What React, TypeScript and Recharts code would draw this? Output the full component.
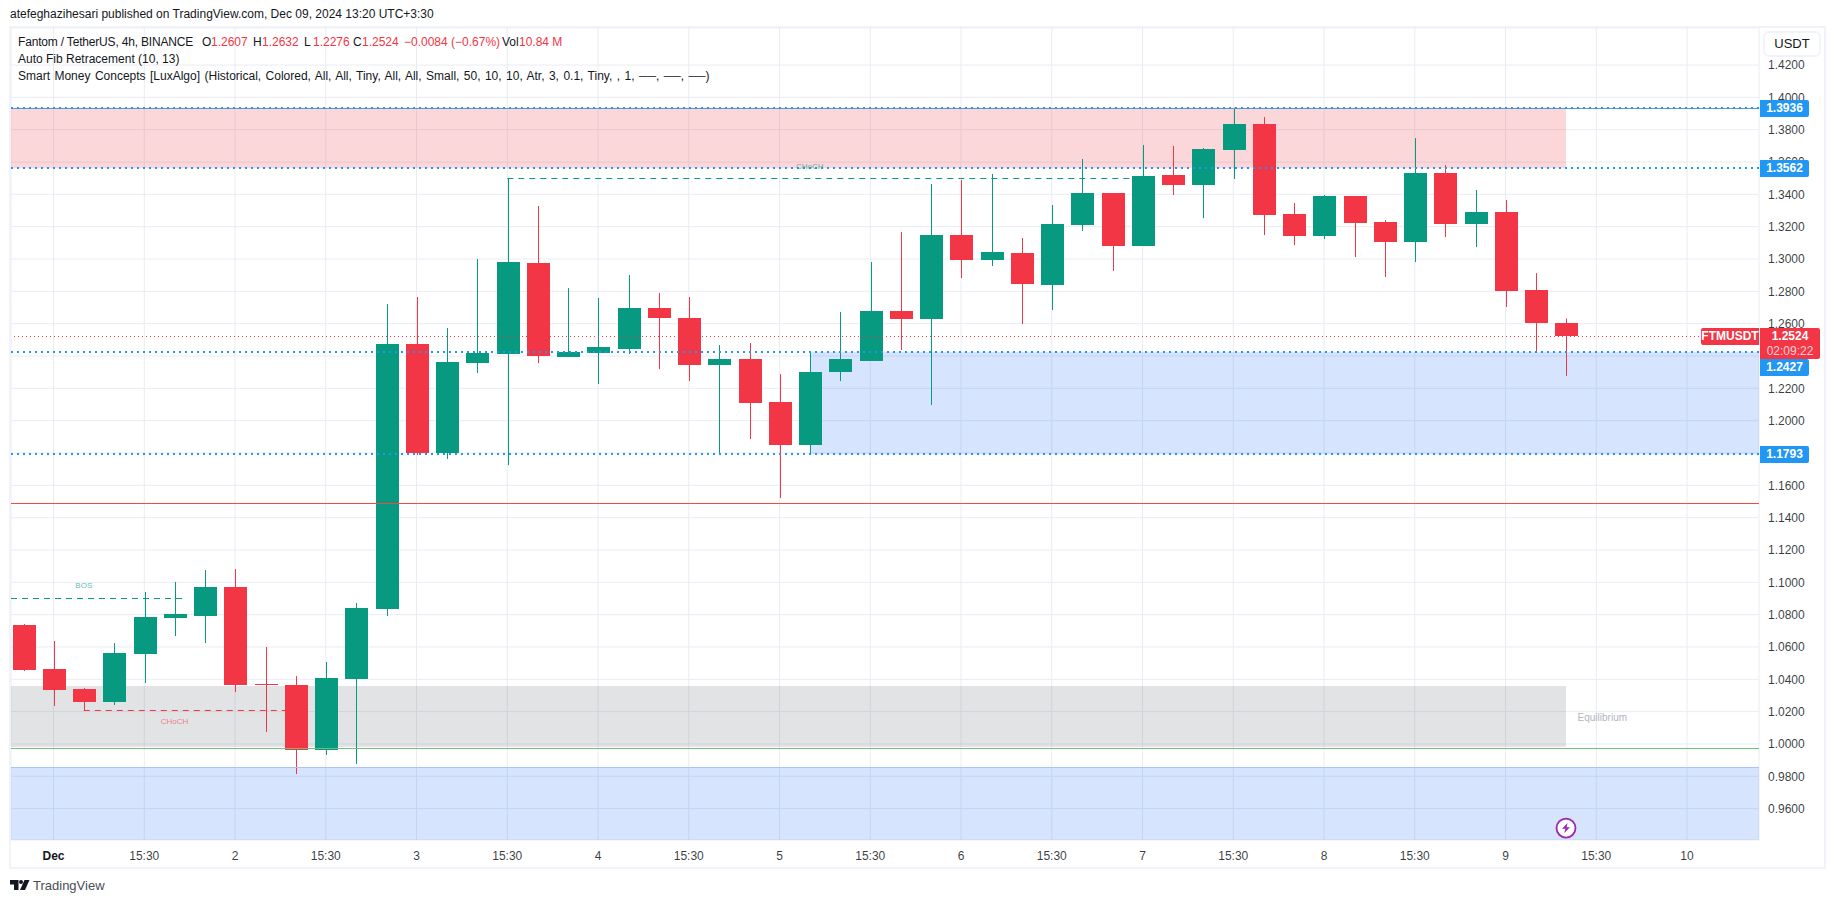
import React from "react";
import { ComposedChart, Bar, XAxis, YAxis, CartesianGrid, ReferenceLine, ReferenceArea, ReferenceDot } from "recharts";

const opens = [1.0736,1.0463,1.0340,1.0259,1.0556,1.0779,1.0791,1.0971,1.0371,1.0365,0.9962,1.0402,1.0835,1.2474,1.1800,1.2356,1.2412,1.2975,1.2394,1.2418,1.2443,1.2697,1.2635,1.2344,1.2381,1.2115,1.1849,1.2301,1.2369,1.2678,1.2629,1.3148,1.2994,1.3037,1.2839,1.3210,1.3408,1.3080,1.3520,1.3458,1.3674,1.3835,1.3278,1.3142,1.3390,1.3229,1.3105,1.3532,1.3216,1.3291,1.2808,1.2607];
const highs = [1.0742,1.0637,1.0346,1.0624,1.0940,1.1002,1.1076,1.1082,1.0600,1.0420,1.0507,1.0872,1.2721,1.2765,1.2573,1.3000,1.3501,1.3328,1.2820,1.2759,1.2901,1.2790,1.2765,1.2468,1.2480,1.2288,1.2425,1.2672,1.2981,1.3167,1.3464,1.3489,1.3526,1.3130,1.3334,1.3619,1.3408,1.3705,1.3699,1.3687,1.3936,1.3878,1.3346,1.3396,1.3390,1.3241,1.3748,1.3581,1.3427,1.3365,1.2913,1.2632];
const lows = [1.0451,1.0235,1.0204,1.0241,1.0377,1.0668,1.0624,1.0321,1.0074,0.9814,0.9932,0.9876,1.0791,1.1787,1.1763,1.2295,1.1725,1.2356,1.2394,1.2227,1.2412,1.2319,1.2245,1.1794,1.1886,1.1521,1.1794,1.2245,1.2369,1.2437,1.2097,1.2882,1.2957,1.2598,1.2684,1.3173,1.2926,1.3080,1.3396,1.3253,1.3495,1.3148,1.3086,1.3124,1.3012,1.2889,1.2981,1.3136,1.3074,1.2703,1.2431,1.2276];
const closes = [1.0457,1.0334,1.0259,1.0562,1.0785,1.0804,1.0971,1.0365,1.0365,0.9962,1.0408,1.0841,1.2474,1.1800,1.2363,1.2418,1.2981,1.2400,1.2425,1.2455,1.2697,1.2635,1.2344,1.2381,1.2109,1.1849,1.2301,1.2381,1.2678,1.2629,1.3148,1.2994,1.3043,1.2845,1.3216,1.3408,1.3080,1.3513,1.3458,1.3680,1.3835,1.3272,1.3142,1.3390,1.3223,1.3105,1.3532,1.3216,1.3291,1.2802,1.2604,1.2524];

const xTicks = [1,4,7,10,13,16,19,22,25,28,31,34,37,40,43,46,49,52,55];
const xLabels = ["Dec","15:30","2","15:30","3","15:30","4","15:30","5","15:30","6","15:30","7","15:30","8","15:30","9","15:30","10"];
const yTicks = [0.96,0.98,1.0,1.02,1.04,1.06,1.08,1.1,1.12,1.14,1.16,1.18,1.2,1.22,1.24,1.26,1.28,1.3,1.32,1.34,1.36,1.38,1.4,1.42];

const UP = "#089981";
const DOWN = "#f23645";
const FONT = "'Liberation Sans', Arial, sans-serif";
const X_MIN = -0.4066;
const X_MAX = 57.38;

const candles = opens.map((o, i) => ({ i, open: o, high: highs[i], low: lows[i], close: closes[i], range: [lows[i], highs[i]] }));

function Candle(props: any) {
  const { x, y, width, height, payload } = props;
  const cx = Math.round(x + width / 2);
  const perUnit = height / (payload.high - payload.low);
  const top = y + (payload.high - Math.max(payload.open, payload.close)) * perUnit;
  const bottom = y + (payload.high - Math.min(payload.open, payload.close)) * perUnit;
  const color = payload.close >= payload.open ? UP : DOWN;
  return (
    <g>
      <rect x={cx} y={y} width={1} height={height} fill={color} />
      <rect x={cx - 11} y={Math.round(top)} width={23} height={Math.max(1, Math.round(bottom) - Math.round(top))} fill={color} />
    </g>
  );
}

function XTick(props: any) {
  const { x, y, payload } = props;
  const label = xLabels[xTicks.indexOf(payload.value)];
  return (
    <text x={x} y={y + 18} textAnchor="middle" fontFamily={FONT} fontSize={12} fontWeight={label === "Dec" ? 700 : 400} fill="#131722" fillOpacity={label === "Dec" ? 1 : 0.85}>
      {label}
    </text>
  );
}

function Bolt(props: any) {
  const { cx, cy } = props;
  return (
    <g>
      <circle cx={cx} cy={cy} r={9.5} fill="#fff" stroke="#9c27b0" strokeWidth={1.8} />
      <path d={`M${cx + 1.5} ${cy - 5} L${cx - 4} ${cy + 0.8} L${cx - 0.6} ${cy + 0.8} L${cx - 1.8} ${cy + 5} L${cx + 4} ${cy - 0.8} L${cx + 0.6} ${cy - 0.8} Z`} fill="#9c27b0" />
    </g>
  );
}

function Txt({ x, y, color = "#131722", size = 12, bold = false, style, children }: any) {
  return (
    <div style={{ position: "absolute", left: x, top: y, transform: "translateY(-50%)", color, fontSize: size, fontWeight: bold ? 700 : 400, whiteSpace: "nowrap", lineHeight: "16px", ...style }}>
      {children}
    </div>
  );
}

function Tag({ top, height = 17, width = 49, left = 1760, color = "#2196f3", radius = "0 2px 2px 0", children }: any) {
  return (
    <div style={{ position: "absolute", left, top, width, height, background: color, borderRadius: radius, color: "#fff", fontSize: 12, fontWeight: 700, textAlign: "center", lineHeight: "17px" }}>
      {children}
    </div>
  );
}

const noLabel = (value: string, color: string, size: number) => ({ value, position: "center" as const, fill: color, fontSize: size, fontFamily: FONT });

export default function App() {
  return (
    <div style={{ position: "absolute", left: 0, top: 0, width: 1835, height: 903, overflow: "hidden", background: "#fff", fontFamily: FONT }}>
      <ComposedChart width={1835} height={903} data={candles} margin={{ top: 28, right: 10, bottom: 35, left: 11 }}>
        <CartesianGrid stroke="#e9ecf3" strokeWidth={1} />
        <XAxis dataKey="i" type="number" scale="linear" domain={[X_MIN, X_MAX]} ticks={xTicks} interval={0} height={28} axisLine={false} tickLine={false} tickSize={0} tick={<XTick />} allowDataOverflow />
        <YAxis orientation="right" type="number" domain={[0.9406, 1.4429]} ticks={yTicks} interval={0} width={66} axisLine={false} tickLine={false} tickSize={0} tickMargin={9} tickFormatter={(v: number) => v.toFixed(4)} tick={{ fontSize: 12, fontFamily: FONT, fill: "#131722", fillOpacity: 0.85 }} allowDataOverflow />

        <ReferenceLine y={1.3931} stroke="#6f92c0" strokeWidth={1} />
        <ReferenceLine y={1.39341} stroke="#2196f3" strokeWidth={2} strokeDasharray="2 4" />
        <ReferenceLine y={1.3563} stroke="#2196f3" strokeWidth={2} strokeDasharray="2 4" />
        <ReferenceLine y={1.24248} stroke="#2196f3" strokeWidth={2} strokeDasharray="2 4" />
        <ReferenceLine y={1.17938} stroke="#2196f3" strokeWidth={2} strokeDasharray="2 4" />
        <ReferenceLine y={1.25206} stroke={DOWN} strokeWidth={1} strokeDasharray="1 3" />
        <ReferenceLine y={1.14876} stroke="#ef4a45" strokeWidth={1} />
        <ReferenceLine y={0.99719} stroke="#6fbf73" strokeWidth={1} />

        <ReferenceArea x1={X_MIN} x2={51} y1={1.3562} y2={1.3936} fill="#f23645" fillOpacity={0.2} stroke="none" />
        <ReferenceArea x1={26} x2={X_MAX} y1={1.1793} y2={1.2427} fill="#3278f5" fillOpacity={0.2} stroke="none" />
        <ReferenceArea x1={X_MIN} x2={51} y1={0.9981} y2={1.0358} fill="#6e737d" fillOpacity={0.2} stroke="none" />
        <ReferenceArea x1={X_MIN} x2={X_MAX} y1={0.9406} y2={0.9856} fill="#3278f5" fillOpacity={0.2} stroke="none" />
        <ReferenceLine y={0.98545} stroke="#aac4f5" strokeWidth={1} />

        <ReferenceLine segment={[{ x: X_MIN, y: 1.08999 }, { x: 5.41, y: 1.08999 }]} stroke={UP} strokeWidth={1} strokeDasharray="6 5" />
        <ReferenceLine segment={[{ x: 2, y: 1.02071 }, { x: 9, y: 1.02071 }]} stroke={DOWN} strokeWidth={1} strokeDasharray="6 5" />
        <ReferenceLine segment={[{ x: 16, y: 1.3498 }, { x: 37, y: 1.3498 }]} stroke={UP} strokeWidth={1} strokeDasharray="6 5" />

        <ReferenceDot x={2} y={1.0983} r={0} fill="none" stroke="none" label={noLabel("BOS", "#089981b0", 8)} />
        <ReferenceDot x={5} y={1.0142} r={0} fill="none" stroke="none" label={noLabel("CHoCH", "#f23645a0", 8)} />
        <ReferenceDot x={26} y={1.3575} r={0} fill="none" stroke="none" label={noLabel("CHoCH", "#089981b0", 8)} />
        <ReferenceDot x={52.2} y={1.0167} r={0} fill="none" stroke="none" label={noLabel("Equilibrium", "#b2b5be", 10)} />

        <Bar dataKey="range" barSize={23} isAnimationActive={false} shape={<Candle />} />
        <ReferenceDot x={51} y={0.948} r={10} shape={<Bolt />} />
      </ComposedChart>

      <div style={{ position: "absolute", left: 9, top: 26, width: 1817, height: 843, border: "2px solid #f0f3fa", boxSizing: "border-box", pointerEvents: "none" }} />

      <Txt x={10} y={14}>atefeghazihesari published on TradingView.com, Dec 09, 2024 13:20 UTC+3:30</Txt>
      <Txt x={18} y={42} style={{ letterSpacing: -0.18 }}>Fantom / TetherUS, 4h, BINANCE</Txt>
      <Txt x={202} y={42}>O</Txt><Txt x={211} y={42} color={DOWN}>1.2607</Txt>
      <Txt x={253} y={42}>H</Txt><Txt x={262} y={42} color={DOWN}>1.2632</Txt>
      <Txt x={304} y={42}>L</Txt><Txt x={313} y={42} color={DOWN}>1.2276</Txt>
      <Txt x={353} y={42}>C</Txt><Txt x={362} y={42} color={DOWN}>1.2524</Txt>
      <Txt x={404} y={42} color={DOWN}>−0.0084 (−0.67%)</Txt>
      <Txt x={502} y={42}>Vol</Txt><Txt x={519} y={42} color={DOWN}>10.84 M</Txt>
      <Txt x={18} y={59}>Auto Fib Retracement (10, 13)</Txt>
      <Txt x={18} y={76} style={{ wordSpacing: 1.1 }}>Smart Money Concepts [LuxAlgo] (Historical, Colored, All, All, Tiny, All, All, Small, 50, 10, 10, Atr, 3, 0.1, Tiny, , 1, ──, ──, ──)</Txt>

      <div style={{ position: "absolute", left: 1763, top: 31, width: 58, height: 26, border: "2px solid #f0f3fa", borderRadius: 6, boxSizing: "border-box", textAlign: "center", fontSize: 13, lineHeight: "22px", color: "#131722" }}>USDT</div>

      <Tag top={100}>1.3936</Tag>
      <Tag top={160}>1.3562</Tag>
      <Tag top={359}>1.2427</Tag>
      <Tag top={446}>1.1793</Tag>
      <Tag top={328} left={1701} width={58} color={DOWN} radius="2px 0 0 2px">FTMUSDT</Tag>
      <div style={{ position: "absolute", left: 1760, top: 328, width: 60, height: 31, background: DOWN, borderRadius: "0 2px 2px 0", color: "#fff", fontSize: 12, textAlign: "center", lineHeight: "15px" }}>
        <div style={{ fontWeight: 700, marginTop: 1 }}>1.2524</div>
        <div style={{ opacity: 0.75 }}>02:09:22</div>
      </div>

      <svg style={{ position: "absolute", left: 0, top: 870 }} width={120} height={30}>
        <path d="M10 10 H18.5 V20 H14 V14.5 H10 Z" fill="#131722" />
        <circle cx={21} cy={12} r={2} fill="#131722" />
        <path d="M24.5 10 H29.5 L25 20 H20 Z" fill="#131722" />
        <text x={33} y={20} fontFamily={FONT} fontSize={13} fill="#4a4d55">TradingView</text>
      </svg>
    </div>
  );
}
